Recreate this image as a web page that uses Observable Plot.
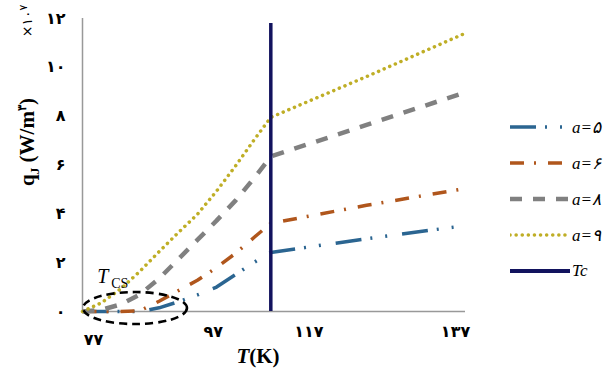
<!DOCTYPE html>
<html>
<head>
<meta charset="utf-8">
<script src="https://cdn.jsdelivr.net/npm/d3@7"></script>
<script src="https://cdn.jsdelivr.net/npm/@observablehq/plot@0.6"></script>
<style>
  body { margin: 0; background: #fff; }
  #wrap { position: relative; width: 605px; height: 372px; overflow: hidden; background: #fff; }
  .rot { position: absolute; transform: translate(-50%, -50%) rotate(-90deg); white-space: nowrap; }
  .abs { position: absolute; white-space: nowrap; }
  #legend { position: absolute; left: 510px; top: 109px; }
  .li { height: 36px; display: flex; align-items: center; }
  .li span { font-family: "Liberation Serif", serif; font-style: italic; font-size: 17px; margin-left: 2px; color: #000; }
</style>
</head>
<body>
<div id="wrap"></div>
<script>
// ---- data ----
const T   = [77, 80, 83, 86, 89, 92, 95, 98, 101, 104, 106.5, 121.5, 137];
const q5  = [0, 0, 0, 0, 0.15, 0.40, 0.68, 1.00, 1.52, 2.03, 2.42, 2.98, 3.52];
const q6  = [0, 0, 0, 0.03, 0.42, 0.85, 1.28, 1.80, 2.39, 3.06, 3.61, 4.35, 5.04];
const q8  = [0, 0.07, 0.29, 0.70, 1.35, 2.14, 2.93, 3.72, 4.55, 5.50, 6.35, 7.64, 8.98];
const q9  = [0, 0.36, 0.93, 1.65, 2.45, 3.23, 3.98, 4.93, 5.97, 7.07, 7.95, 9.62, 11.40];
const seriesNames = ["a=۵", "a=۶", "a=۸", "a=۹"];
const Tc = 106.5;
const TcTop = 11.8;
const xTicks = [77, 97, 117, 137];
const yTicks = [0, 2, 4, 6, 8, 10, 12];
const tcsCenter = [{T: 85.3, q: 0.12}];
const tcsLabel = [{T: 79.3, q: 1.15}];

const fa = n => String(n).replace(/\d/g, d => "۰۱۲۳۴۵۶۷۸۹"[d]);

const styles = [
  {stroke: "#2b6591", strokeWidth: 3.5, dash: "26 9 2 13 2 15", cap: "butt"},
  {stroke: "#b0561c", strokeWidth: 3.5, dash: "14 10 2 12", cap: "butt"},
  {stroke: "#808080", strokeWidth: 4.5, dash: "12 11", cap: "butt"},
  {stroke: "#bfae26", strokeWidth: 3.5, dash: "0.1 6", cap: "round"}
];
const seriesVals = [q5, q6, q8, q9];

const rows = i => T.map((t, j) => ({T: t, q: seriesVals[i][j]}));

const tickFont = {fontSize: 16, fontWeight: "bold", fontFamily: "DejaVu Sans", fill: "#000"};

const chart = Plot.plot({
  width: 605,
  height: 372,
  marginLeft: 82,
  marginRight: 140,
  marginTop: 18,
  marginBottom: 61,
  style: {background: "transparent", overflow: "visible"},
  x: {domain: [77, 137], axis: null},
  y: {domain: [0, 12], axis: null},
  marks: [
    Plot.ruleX([77], {y1: 0, y2: 12, stroke: "#999", strokeWidth: 1.5}),
    Plot.ruleY([0], {stroke: "#999", strokeWidth: 1.5}),
    Plot.axisY({ticks: yTicks, tickFormat: fa, tickSize: 0, tickPadding: 17, label: null, ...tickFont}),
    Plot.axisX({ticks: [77], tickFormat: fa, tickSize: 0, tickPadding: 14, dx: 11, dy: 8, label: null, ...tickFont}),
    Plot.axisX({ticks: [97], tickFormat: fa, tickSize: 0, tickPadding: 14, dx: 3, label: null, ...tickFont}),
    Plot.axisX({ticks: [117], tickFormat: fa, tickSize: 0, tickPadding: 14, dx: -29, label: null, ...tickFont}),
    Plot.axisX({ticks: [137], tickFormat: fa, tickSize: 0, tickPadding: 14, dx: -10, label: null, ...tickFont}),
    ...styles.map((s, i) => Plot.line(rows(i), {
      x: "T", y: "q", stroke: s.stroke, strokeWidth: s.strokeWidth,
      strokeDasharray: s.dash, strokeLinecap: s.cap, strokeLinejoin: "round"
    })),
    Plot.ruleX([Tc], {y1: 0, y2: TcTop, stroke: "#12135e", strokeWidth: 3.5}),
    Plot.dot(tcsCenter, {
      x: "T", y: "q",
      render(index, scales, values) {
        const g = d3.create("svg:g");
        for (const i of index) {
          g.append("ellipse")
            .attr("cx", values.x[i]).attr("cy", values.y[i])
            .attr("rx", 52).attr("ry", 16)
            .attr("fill", "none").attr("stroke", "#000")
            .attr("stroke-width", 2.6).attr("stroke-dasharray", "8 5");
        }
        return g.node();
      }
    }),
    Plot.text(tcsLabel, {x: "T", y: "q", text: () => "T", textAnchor: "start", fontFamily: "Liberation Serif", fontStyle: "italic", fontSize: 20, fill: "#000", lineAnchor: "bottom"}),
    Plot.text(tcsLabel, {x: "T", y: "q", text: () => "CS", textAnchor: "start", dx: 14, dy: 5, fontFamily: "Liberation Serif", fontSize: 14, fill: "#000", lineAnchor: "bottom"})
  ]
});

const wrap = document.getElementById("wrap");
wrap.appendChild(chart);

// titles
const yt = document.createElement("div");
yt.className = "rot";
yt.style.cssText += "left:29px;top:142px;font-family:'Liberation Serif',serif;font-weight:bold;font-size:21px;";
yt.innerHTML = "q<sub style='font-size:13px'>J</sub> (W/m<sup style='font-size:12px'>۳</sup>)";
wrap.appendChild(yt);

const ex = document.createElement("div");
ex.className = "rot";
ex.style.cssText += "left:26px;top:21px;font-family:'DejaVu Sans',sans-serif;font-size:14px;";
ex.innerHTML = "×" + fa(10) + "<sup style='font-size:11px'>" + fa(7) + "</sup>";
wrap.appendChild(ex);

const xt = document.createElement("div");
xt.className = "abs";
xt.style.cssText += "left:258px;top:344px;transform:translateX(-50%);font-family:'Liberation Serif',serif;font-weight:bold;font-size:21px;";
xt.innerHTML = "<i>T</i>(K)";
wrap.appendChild(xt);

// legend
const lg = document.createElement("div");
lg.id = "legend";
const items = styles.map((s, i) => ({name: seriesNames[i], ...s}));
items.push({name: "Tc", stroke: "#12135e", strokeWidth: 4, dash: null, cap: "butt"});
for (const it of items) {
  const row = document.createElement("div");
  row.className = "li";
  const svg = d3.create("svg").attr("width", 60).attr("height", 10);
  svg.append("line").attr("x1", 0).attr("x2", 60).attr("y1", 5).attr("y2", 5)
    .attr("stroke", it.stroke).attr("stroke-width", it.strokeWidth)
    .attr("stroke-dasharray", it.dash).attr("stroke-linecap", it.cap);
  row.appendChild(svg.node());
  const sp = document.createElement("span");
  sp.textContent = it.name;
  row.appendChild(sp);
  lg.appendChild(row);
}
wrap.appendChild(lg);
</script>
</body>
</html>
